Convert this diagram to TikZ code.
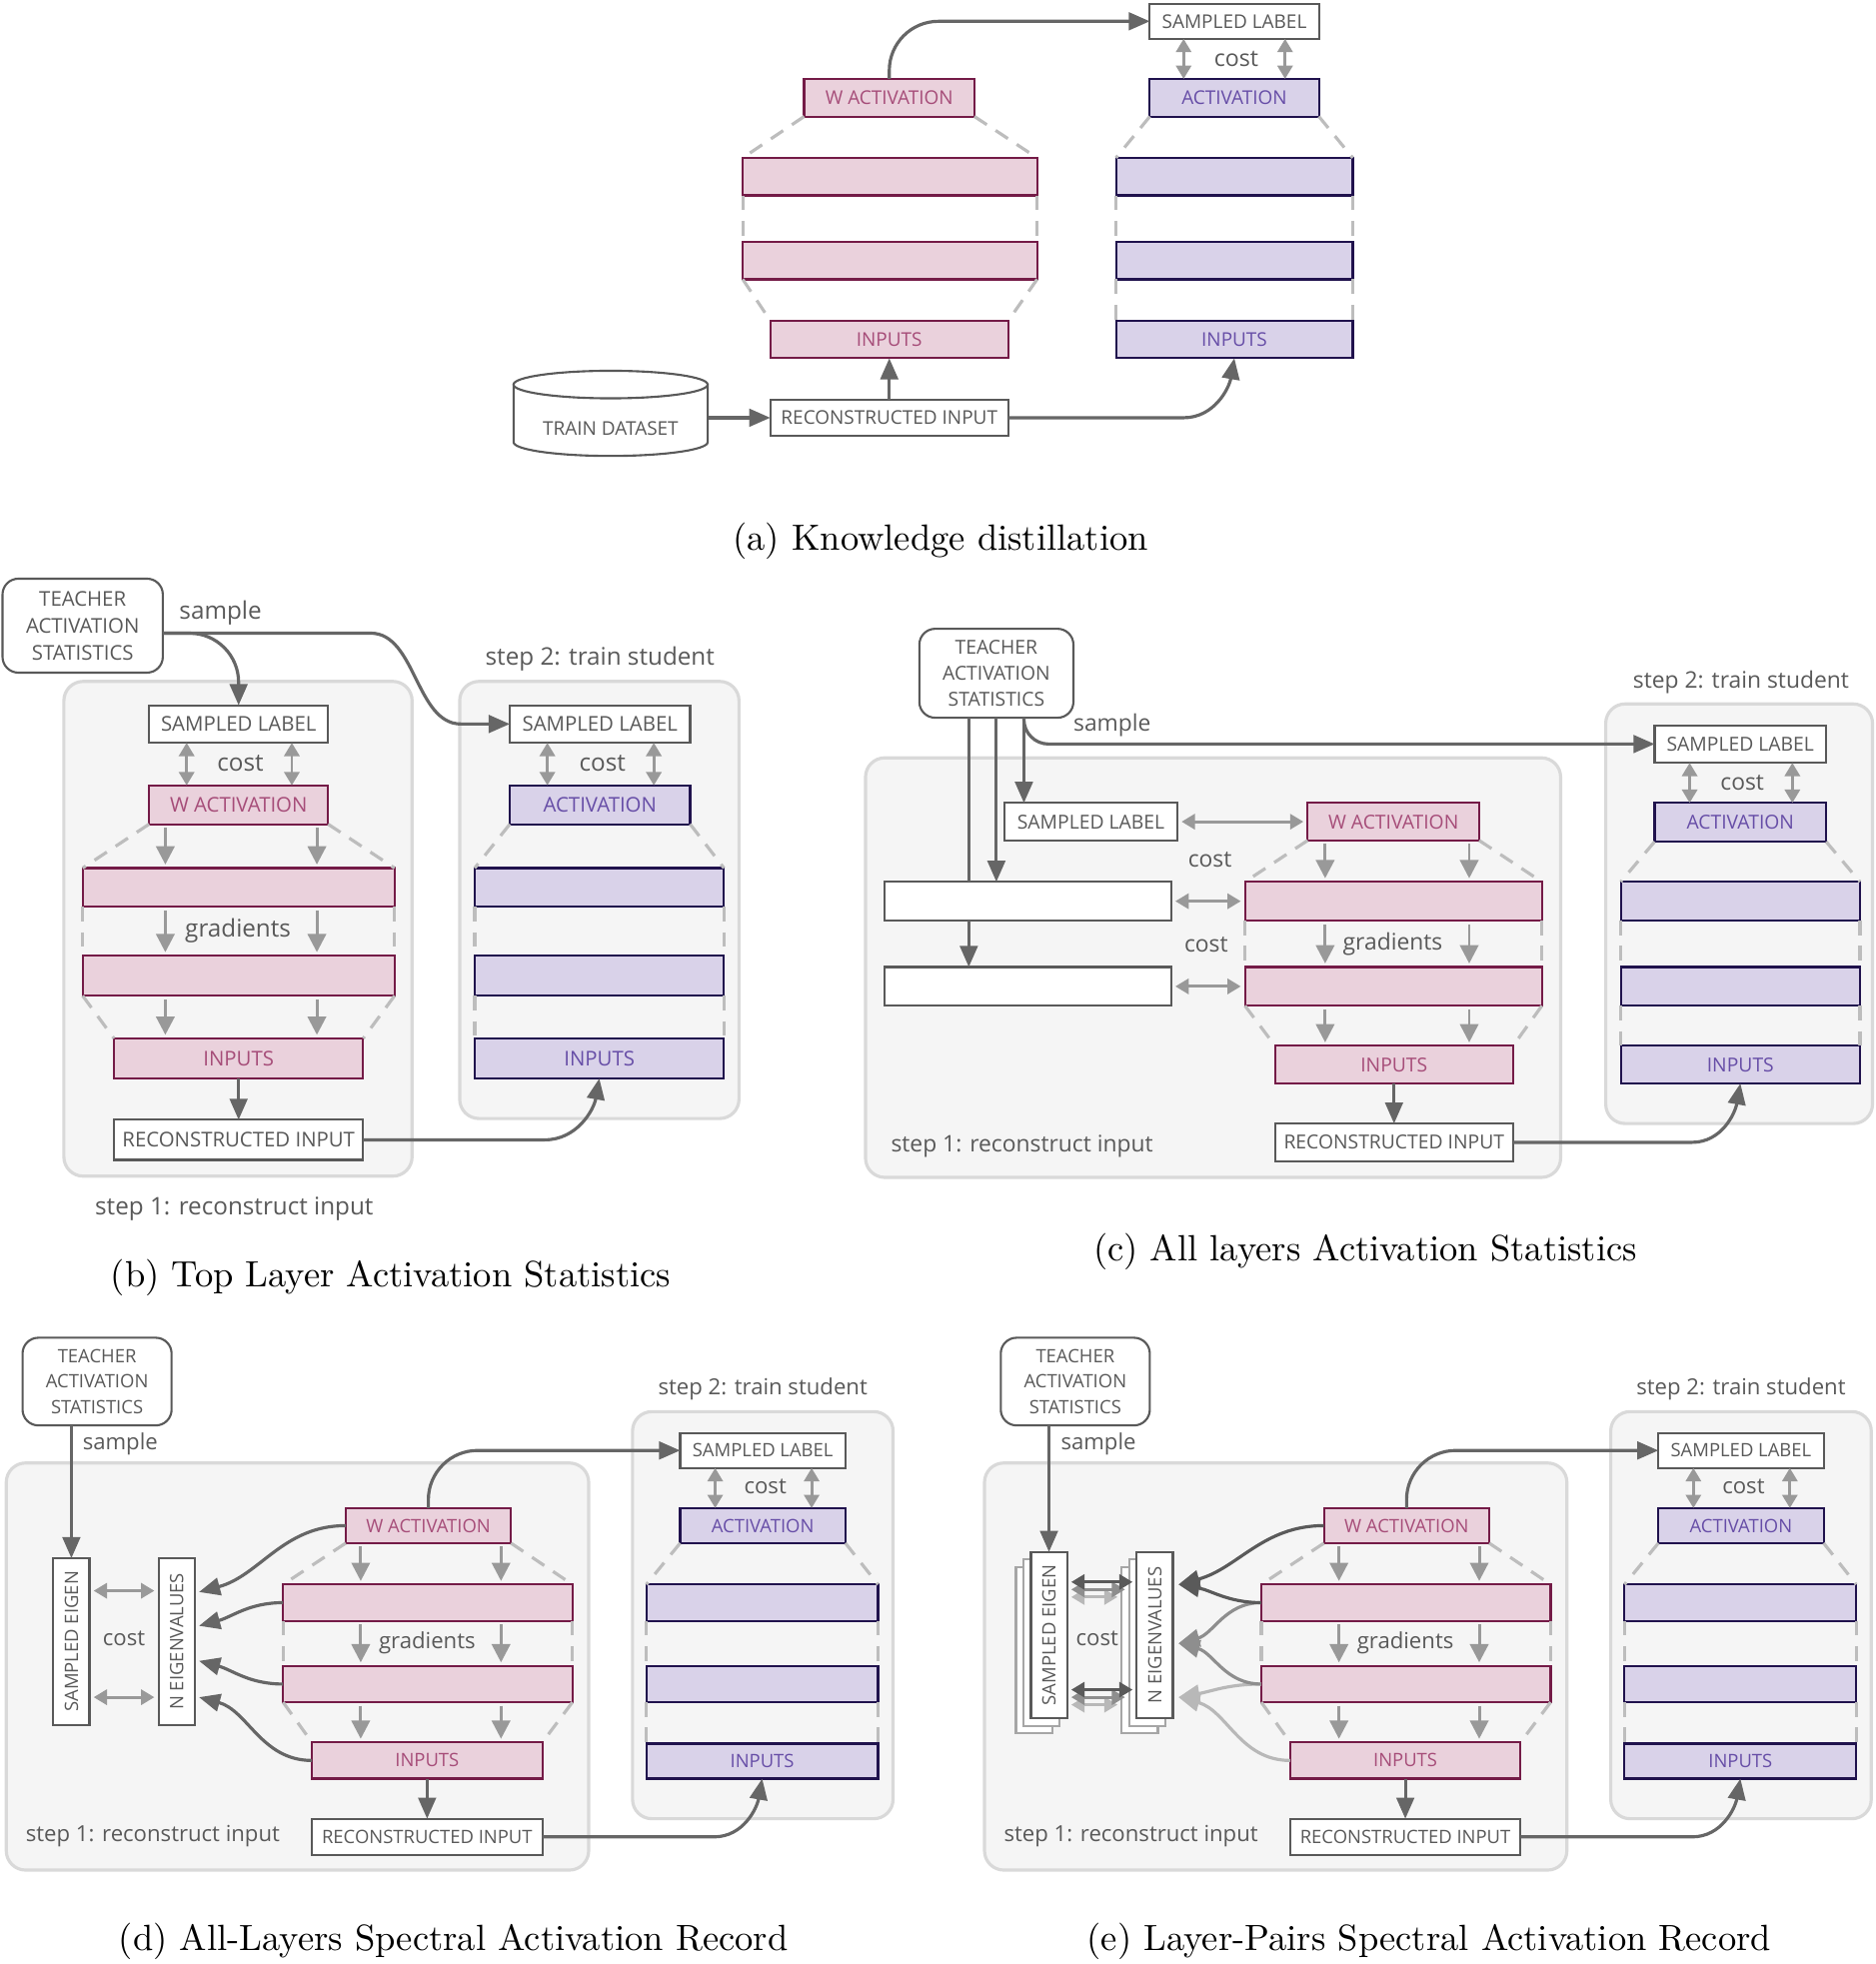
\documentclass[tikz,border=0pt]{standalone}
\usepackage{fontspec}
\newfontfamily\osans{Open Sans}
\usetikzlibrary{arrows.meta,calc}
\definecolor{pinkfill}{HTML}{EAD1DC}
\definecolor{pinkline}{HTML}{741B47}
\definecolor{pinktext}{HTML}{A64D79}
\definecolor{purpfill}{HTML}{D9D2E9}
\definecolor{purpline}{HTML}{20124D}
\definecolor{purptext}{HTML}{674EA7}
\definecolor{boxgray}{HTML}{595959}
\definecolor{linkgray}{HTML}{666666}
\definecolor{costgray}{HTML}{999999}
\definecolor{dashgray}{HTML}{BDBDBD}
\definecolor{panelfill}{HTML}{F5F5F5}
\definecolor{panelline}{HTML}{D9D9D9}
\definecolor{stackgray}{HTML}{A6A6A6}
\definecolor{pairdark}{HTML}{5A5A5A}
\definecolor{pairmid}{HTML}{8E8E8E}
\definecolor{pairlight}{HTML}{B8B8B8}
% one unit = one pixel of the layout
\newcommand{\pxu}{0.3566pt}
\newcommand{\boxpt}{5.4}
\newcommand{\labpt}{6.6}
\newcommand{\leadpt}{7.5}
\newcommand{\panelfonts}[3]{\renewcommand{\boxpt}{#1}\renewcommand{\labpt}{#2}\renewcommand{\leadpt}{#3}}
\newcommand{\boxfont}{\osans\fontsize{\boxpt}{\leadpt}\selectfont}
\newcommand{\labfont}{\osans\fontsize{\labpt}{\labpt}\selectfont}
\tikzset{
  net/.style={rectangle,inner sep=0pt,outer sep=0pt,line width=0.6pt,font=\boxfont},
  pinkbox/.style={net,fill=pinkfill,draw=pinkline,text=pinktext},
  purpbox/.style={net,fill=purpfill,draw=purpline,text=purptext},
  whitebox/.style={net,fill=white,draw=boxgray,text=boxgray},
  teachbox/.style={whitebox,rounded corners=4.5pt,align=center},
  eigbox/.style={whitebox,rotate=90,minimum width=133*\pxu,minimum height=28.8*\pxu},
  panel/.style={fill=panelfill,draw=panelline,line width=0.9pt,rounded corners=5.5pt},
  lab/.style={font=\labfont,text=boxgray,inner sep=0pt},
  caption/.style={font=\fontsize{10.4}{12}\selectfont,inner sep=0pt},
  link/.style={draw=linkgray,line width=0.9pt,-{Triangle[length=6pt,width=5pt]}},
  plain/.style={draw=linkgray,line width=0.9pt},
  costarr/.style={draw=costgray,line width=0.85pt,
    {Triangle[length=3.8pt,width=4.3pt]}-{Triangle[length=3.8pt,width=4.3pt]}},
  costside/.style={costarr,shorten <=1.2pt,shorten >=1.2pt},
  grad/.style={draw=costgray,line width=0.85pt,-{Triangle[length=5.2pt,width=5.2pt]},
    shorten <=1pt,shorten >=1pt},
  guide/.style={draw=dashgray,line width=0.9pt,dash pattern=on 4.2pt off 3pt}
}
% box from its corners: name, style, x1, y1, x2, y2, text
\newcommand{\netbox}[7]{%
  \node[#2,minimum width={(#5-#3)*\pxu},minimum height={(#6-#4)*\pxu}]
    (#1) at ({(#3+#5)/2},{-(#4+#6)/2}) {#7};}
% dashed outline of a layer stack
\newcommand{\guides}[4]{%
  \foreach \ga/\gb in {#1/#2,#2/#3,#3/#4}{%
    \draw[guide] (\ga.south west) -- (\gb.north west);
    \draw[guide] (\ga.south east) -- (\gb.north east);}}
% gradient arrows down a layer stack
\newcommand{\gradflow}[5]{%
  \foreach \gx in {#1}{%
    \foreach \ga/\gb in {#2/#3,#3/#4,#4/#5}
      \draw[grad] (\gx,0 |- \ga.south) -- (\gx,0 |- \gb.north);}}

\begin{document}
\begin{tikzpicture}[x=\pxu,y=\pxu]
  \useasboundingbox (0,0) rectangle (1497,-1568);

  % (a) knowledge distillation
  \panelfonts{5.4}{6.6}{7.5}
  \netbox{asl}{whitebox}{918}{3}{1053}{31}{SAMPLED LABEL}
  \netbox{aact}{purpbox}{918}{63}{1053}{93}{ACTIVATION}
  \netbox{as1}{purpbox}{891}{126}{1080}{156}{}
  \netbox{as2}{purpbox}{891}{193}{1080}{223}{}
  \netbox{asin}{purpbox}{891}{256}{1080}{286}{INPUTS}
  \netbox{awact}{pinkbox}{642}{63}{778}{93}{W ACTIVATION}
  \netbox{at1}{pinkbox}{593}{126}{828}{156}{}
  \netbox{at2}{pinkbox}{593}{193}{828}{223}{}
  \netbox{atin}{pinkbox}{615}{256}{805}{286}{INPUTS}
  \netbox{ari}{whitebox}{615}{319}{805}{348}{RECONSTRUCTED INPUT}
  \guides{awact}{at1}{at2}{atin}
  \guides{aact}{as1}{as2}{asin}
  \node[lab] (acost) at (987,-47) {cost};
  \foreach \cx in {945,1026}
    \draw[costarr] (\cx,0 |- asl.south) -- (\cx,0 |- aact.north);
  \node[inner sep=0pt,minimum width=155*\pxu,minimum height=67*\pxu] (atrain) at (487.5,-331) {};
  \draw[draw=boxgray,line width=0.6pt,fill=white] (410,-307) -- (410,-353)
    arc[start angle=180,end angle=360,x radius=77.5,y radius=11] -- (565,-307);
  \draw[draw=boxgray,line width=0.6pt,fill=white] (487.5,-307) ellipse [x radius=77.5,y radius=11];
  \node[net,text=boxgray] (atraintxt) at (487.5,-342) {TRAIN DATASET};
  \draw[link] (atrain.east |- ari.west) -- (ari.west);
  \draw[link] (ari.north) -- (atin.south);
  \draw[link,rounded corners=14pt] (awact.north) |- (asl.west);
  \draw[link] (ari.east) -- ++(140,0) to[out=0,in=-100] (asin.south);
  \node[caption] (capa) at (751,-432) {(a) Knowledge distillation};

  % (b) top layer activation statistics
  \panelfonts{5.8}{6.9}{7.7}
  \draw[panel] (51,-544) rectangle (329,-939);
  \draw[panel] (367,-544) rectangle (590,-893);
  \netbox{bteach}{teachbox}{2}{462}{130}{537}{TEACHER\\ACTIVATION\\STATISTICS}
  \netbox{bsl}{whitebox}{119}{563}{262}{593}{SAMPLED LABEL}
  \netbox{bwact}{pinkbox}{119}{627}{262}{658}{W ACTIVATION}
  \netbox{bt1}{pinkbox}{66}{693}{315}{724}{}
  \netbox{bt2}{pinkbox}{66}{763}{315}{795}{}
  \netbox{btin}{pinkbox}{91}{829}{290}{861}{INPUTS}
  \netbox{bri}{whitebox}{91}{894}{290}{926}{RECONSTRUCTED INPUT}
  \netbox{bssl}{whitebox}{407}{563}{551}{593}{SAMPLED LABEL}
  \netbox{bsact}{purpbox}{407}{627}{551}{658}{ACTIVATION}
  \netbox{bs1}{purpbox}{379}{693}{578}{724}{}
  \netbox{bs2}{purpbox}{379}{763}{578}{795}{}
  \netbox{bsin}{purpbox}{379}{829}{578}{861}{INPUTS}
  \guides{bwact}{bt1}{bt2}{btin}
  \guides{bsact}{bs1}{bs2}{bsin}
  \gradflow{132,253}{bwact}{bt1}{bt2}{btin}
  \node[lab] (bcost) at (192,-609) {cost};
  \node[lab] (bscost) at (481,-609) {cost};
  \node[lab] (bgrad) at (190,-743) {gradients};
  \node[lab] (bsample) at (176,-489) {sample};
  \node[lab] (bstep1) at (187,-965) {step 1: reconstruct input};
  \node[lab] (bstep2) at (479,-526) {step 2: train student};
  \foreach \cx/\ta/\tb in {149/bsl/bwact,233/bsl/bwact,437/bssl/bsact,522/bssl/bsact}
    \draw[costarr] (\cx,0 |- \ta.south) -- (\cx,0 |- \tb.north);
  \coordinate (bout) at ($(bteach.east)+(0,-6)$);
  \draw[link,rounded corners=14pt] (bout) -| (bsl.north);
  \draw[link] (bout) -- (296,0 |- bout) .. controls (332,0 |- bout) and (332,0 |- bssl.west)
    .. (368,0 |- bssl.west) -- (bssl.west);
  \draw[link] (btin.south) -- (bri.north);
  \draw[link] (bri.east) -- ++(145,0) to[out=0,in=-100] (bsin.south);
  \node[caption] (capb) at (312,-1020) {(b) Top Layer Activation Statistics};

  % (c) all layers activation statistics
  \panelfonts{5.5}{6.5}{7.5}
  \draw[panel] (691,-605) rectangle (1246,-940);
  \draw[panel] (1282,-562) rectangle (1495,-897);
  \netbox{cteach}{teachbox}{734}{502}{857}{573}{TEACHER\\ACTIVATION\\STATISTICS}
  \netbox{csl}{whitebox}{802}{641}{940}{671}{SAMPLED LABEL}
  \netbox{cwact}{pinkbox}{1044}{641}{1181}{671}{W ACTIVATION}
  \netbox{cw1}{whitebox}{706}{704}{935}{735}{}
  \netbox{cw2}{whitebox}{706}{772}{935}{803}{}
  \netbox{ct1}{pinkbox}{994}{704}{1231}{735}{}
  \netbox{ct2}{pinkbox}{994}{772}{1231}{803}{}
  \netbox{ctin}{pinkbox}{1018}{835}{1208}{865}{INPUTS}
  \netbox{cri}{whitebox}{1018}{897}{1208}{927}{RECONSTRUCTED INPUT}
  \netbox{cssl}{whitebox}{1321}{579}{1458}{609}{SAMPLED LABEL}
  \netbox{csact}{purpbox}{1321}{641}{1458}{672}{ACTIVATION}
  \netbox{cs1}{purpbox}{1294}{704}{1485}{735}{}
  \netbox{cs2}{purpbox}{1294}{772}{1485}{803}{}
  \netbox{csin}{purpbox}{1294}{835}{1485}{865}{INPUTS}
  \guides{cwact}{ct1}{ct2}{ctin}
  \guides{csact}{cs1}{cs2}{csin}
  \gradflow{1058,1173}{cwact}{ct1}{ct2}{ctin}
  \node[lab] (ccost1) at (966,-686) {cost};
  \node[lab] (ccost2) at (963,-754) {cost};
  \node[lab] (cscost) at (1391,-625) {cost};
  \node[lab] (cgrad) at (1112,-754) {gradients};
  \node[lab] (csample) at (888,-579) {sample};
  \node[lab] (cstep1) at (816,-915) {step 1: reconstruct input};
  \node[lab] (cstep2) at (1390,-545) {step 2: train student};
  \foreach \cx in {1349,1431}
    \draw[costarr] (\cx,0 |- cssl.south) -- (\cx,0 |- csact.north);
  \draw[costside] (csl.east) -- (cwact.west);
  \draw[costside] (cw1.east) -- (ct1.west);
  \draw[costside] (cw2.east) -- (ct2.west);
  \coordinate (ctl) at ($(cteach.south)+(-22,0)$);
  \coordinate (ctr) at ($(cteach.south)+(22,0)$);
  \draw[plain] (ctl) -- (ctl |- cw1.north);
  \draw[link] (ctl |- cw1.south) -- (ctl |- cw2.north);
  \draw[link] (cteach.south) -- (cteach.south |- cw1.north);
  \draw[link] (ctr) -- (ctr |- csl.north);
  \draw[link,rounded corners=7pt] (ctr) |- (cssl.west);
  \draw[link] (ctin.south) -- (cri.north);
  \draw[link] (cri.east) -- ++(143,0) to[out=0,in=-100] (csin.south);
  \node[caption] (capc) at (1090,-999) {(c) All layers Activation Statistics};

  % (d) and (e): spectral records, common parts
  \panelfonts{5.25}{6.3}{7.3}
  \foreach \p/\dx in {d/0,e/781}{
  \begin{scope}[xshift=\dx*\pxu]
    \draw[panel] (5,-1168) rectangle (470,-1493);
    \draw[panel] (505,-1127) rectangle (713,-1452);
    \netbox{\p teach}{teachbox}{18}{1068}{137}{1138}{TEACHER\\ACTIVATION\\STATISTICS}
    \netbox{\p wact}{pinkbox}{276}{1204}{408}{1232}{W ACTIVATION}
    \netbox{\p t1}{pinkbox}{226}{1265}{457}{1294}{}
    \netbox{\p t2}{pinkbox}{226}{1330}{457}{1359}{}
    \netbox{\p tin}{pinkbox}{249}{1391}{433}{1420}{INPUTS}
    \netbox{\p ri}{whitebox}{249}{1452}{433}{1481}{RECONSTRUCTED INPUT}
    \netbox{\p ssl}{whitebox}{543}{1144}{675}{1172}{SAMPLED LABEL}
    \netbox{\p sact}{purpbox}{543}{1204}{675}{1232}{ACTIVATION}
    \netbox{\p s1}{purpbox}{516}{1265}{701}{1294}{}
    \netbox{\p s2}{purpbox}{516}{1330}{701}{1359}{}
    \netbox{\p sin}{purpbox}{516}{1392}{701}{1420}{INPUTS}
    \guides{\p wact}{\p t1}{\p t2}{\p tin}
    \guides{\p sact}{\p s1}{\p s2}{\p sin}
    \gradflow{288,400}{\p wact}{\p t1}{\p t2}{\p tin}
    \node[lab] (\p grad) at (341,-1312) {gradients};
    \node[lab] (\p sample) at (96,-1153) {sample};
    \node[lab] (\p step1) at (122,-1466) {step 1: reconstruct input};
    \node[lab] (\p step2) at (609,-1109) {step 2: train student};
    \node[lab] (\p scost) at (611,-1187) {cost};
    \foreach \cx in {571,648}
      \draw[costarr] (\cx,0 |- \p ssl.south) -- (\cx,0 |- \p sact.north);
    \draw[link] (\p tin.south) -- (\p ri.north);
    \draw[link,rounded corners=14pt] (\p wact.north) |- (\p ssl.west);
    \draw[link] (\p ri.east) -- ++(137,0) to[out=0,in=-100] (\p sin.south);
  \end{scope}}

  % (d) all-layers spectral record
  \node[eigbox] (dseig) at (57,-1310.5) {SAMPLED EIGEN};
  \node[eigbox] (dneig) at (141,-1310.5) {N EIGENVALUES};
  \node[lab] (dcost) at (99,-1308) {cost};
  \draw[costside] ($(dseig.south)+(0,40.5)$) -- ($(dneig.north)+(0,40.5)$);
  \draw[costside] ($(dseig.south)+(0,-44.5)$) -- ($(dneig.north)+(0,-44.5)$);
  \draw[link] (dseig.east |- dteach.south) -- (dseig.east);
  \coordinate (dtipa) at ($(dneig.south)+(3.5,39.5)$);
  \coordinate (dtipb) at ($(dneig.south)+(3.5,12.5)$);
  \coordinate (dtipc) at ($(dneig.south)+(3.5,-15.5)$);
  \coordinate (dtipd) at ($(dneig.south)+(3.5,-44.5)$);
  \draw[link] (dwact.west) to[out=180,in=15] (dtipa);
  \draw[link] (dt1.west) to[out=180,in=15] (dtipb);
  \draw[link] (dt2.west) to[out=180,in=-15] (dtipc);
  \draw[link] (dtin.west) to[out=180,in=-15] (dtipd);
  \node[caption] (capd) at (362,-1550) {(d) All-Layers Spectral Activation Record};

  % (e) layer-pairs spectral record
  \foreach \k in {12,6}{
    \node[eigbox,draw=stackgray] (eseig\k) at ({837.5-\k},{-1305.5-\k}) {};
    \node[eigbox,draw=stackgray] (eneig\k) at ({922-\k},{-1305.5-\k}) {};}
  \node[eigbox] (eseig0) at (837.5,-1305.5) {SAMPLED EIGEN};
  \node[eigbox] (eneig0) at (922,-1305.5) {N EIGENVALUES};
  \foreach \k/\c in {12/pairlight,6/pairmid,0/pairdark}{
    \draw[costside,draw=\c] ($(eseig0.south)+(0,42.5-\k)$) -- ($(eneig\k.north)+(0,42.5)$);
    \draw[costside,draw=\c] ($(eseig0.south)+(0,-43.5-\k)$) -- ($(eneig\k.north)+(0,-43.5)$);}
  \node[lab] (ecost) at (876,-1308) {cost};
  \draw[link] (eseig0.east |- eteach.south) -- (eseig0.east);
  \coordinate (etipa) at ($(eneig0.south)+(4.5,40.5)$);
  \coordinate (etipb) at ($(eneig0.south)+(4.5,-6.5)$);
  \coordinate (etipc) at ($(eneig0.south)+(4.5,-49.5)$);
  \draw[link,draw=pairlight] (et2.west) to[out=180,in=10] (etipc);
  \draw[link,draw=pairlight] (etin.west) to[out=180,in=-15] (etipc);
  \draw[link,draw=pairmid] (et1.west) to[out=180,in=15] (etipb);
  \draw[link,draw=pairmid] (et2.west) to[out=180,in=-15] (etipb);
  \draw[link,draw=pairdark] (ewact.west) to[out=180,in=15] (etipa);
  \draw[link,draw=pairdark] (et1.west) to[out=180,in=-10] (etipa);
  \node[caption] (cape) at (1141,-1550) {(e) Layer-Pairs Spectral Activation Record};
\end{tikzpicture}
\end{document}
